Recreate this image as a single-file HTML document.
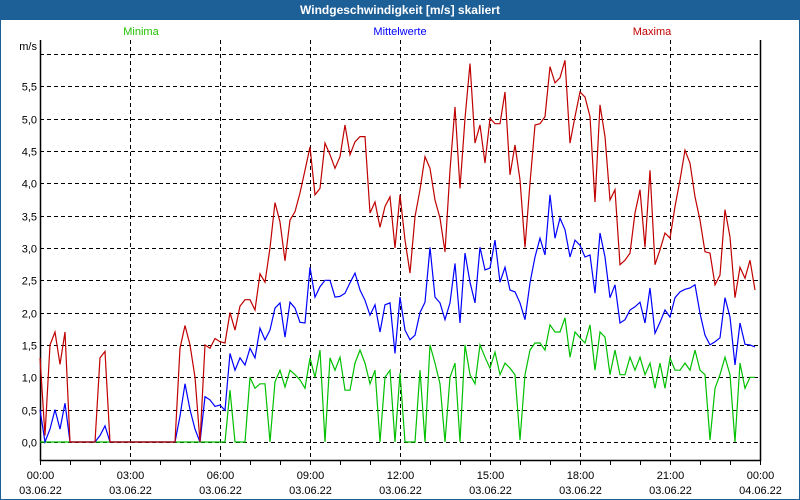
<!DOCTYPE html>
<html><head><meta charset="utf-8"><style>
body{margin:0;background:#fff;}
#wrap{position:relative;width:800px;height:500px;overflow:hidden;background:#fff;font-family:"Liberation Sans",sans-serif;}
#title{position:absolute;left:0;top:0;width:800px;height:20px;background:#1d5f97;color:#fff;font-weight:bold;font-size:12px;line-height:20px;text-align:center;}
</style></head><body>
<div id="wrap">
<div id="title">Windgeschwindigkeit [m/s] skaliert</div>
<svg id="chart" width="800" height="500" style="position:absolute;left:0;top:0"></svg>
</div>
<script>
const xTickLabels=["00:00","03:00","06:00","09:00","12:00","15:00","18:00","21:00","00:00"];
const xDateLabels=["03.06.22","03.06.22","03.06.22","03.06.22","03.06.22","03.06.22","03.06.22","03.06.22","04.06.22"];
const yTicks=[0,0.5,1,1.5,2,2.5,3,3.5,4,4.5,5,5.5,6];
const stepMinutes=10;
const maxima=[1.3,0.1,1.5,1.7,1.2,1.7,0,0,0,0,0,0,1.3,1.4,0,0,0,0,0,0,0,0,0,0,0,0,0,0,1.45,1.8,1.5,1.0,0,1.5,1.45,1.6,1.55,1.53,2.0,1.73,2.1,2.2,2.2,2.04,2.6,2.47,3.0,3.7,3.4,2.8,3.43,3.56,3.85,4.2,4.56,3.82,3.92,4.62,4.44,4.23,4.41,4.9,4.44,4.64,4.72,4.72,3.54,3.71,3.32,3.64,3.79,3.0,3.82,3.12,2.61,3.48,3.9,4.41,4.23,3.74,3.46,2.94,4.2,5.18,3.92,5.0,5.85,4.62,4.9,4.31,5.0,4.92,4.92,5.41,4.13,4.59,4.05,3.01,4.0,4.9,4.92,5.03,5.8,5.55,5.63,5.9,4.62,5.03,5.41,5.33,5.03,3.71,5.21,4.72,3.74,3.9,2.74,2.81,2.92,3.54,3.9,3.01,4.2,2.74,2.97,3.23,3.15,3.64,4.05,4.51,4.31,3.79,3.43,2.94,2.92,2.43,2.58,3.59,3.17,2.23,2.7,2.53,2.81,2.35];
const mittel=[0.5,0.0,0.2,0.5,0.2,0.6,0,0,0,0,0,0,0.1,0.25,0,0,0,0,0,0,0,0,0,0,0,0,0,0,0.4,0.9,0.5,0.2,0,0.7,0.65,0.55,0.57,0.49,1.37,1.11,1.3,1.19,1.45,1.3,1.76,1.58,1.73,2.07,2.15,1.62,2.16,2.07,1.85,1.84,2.7,2.24,2.4,2.5,2.5,2.24,2.25,2.3,2.46,2.61,2.35,2.19,1.96,2.12,1.7,2.12,2.15,1.37,2.24,1.73,1.58,1.65,2.0,2.16,3.01,2.24,2.15,1.89,2.15,2.76,1.84,2.92,2.47,2.15,3.01,2.66,2.69,3.12,2.47,2.7,2.35,2.32,2.15,1.89,2.46,2.86,3.15,2.89,3.82,3.15,3.46,3.28,2.86,3.12,3.04,2.86,2.89,2.3,3.23,2.86,2.23,2.43,1.84,1.89,2.04,2.09,2.16,1.84,2.38,1.68,1.85,2.04,1.93,2.23,2.32,2.36,2.38,2.43,1.99,1.65,1.5,1.55,1.61,2.23,1.93,1.19,1.84,1.51,1.5,1.47];
const minima=[0,0,0,0,0,0,0,0,0,0,0,0,0,0,0,0,0,0,0,0,0,0,0,0,0,0,0,0,0,0,0,0,0,0,0,0,0,0,0.8,0,0,0,1.0,0.83,0.9,0.9,0,0.93,1.11,0.85,1.11,1.04,0.96,0.83,1.3,1.0,1.42,0,1.3,1.11,1.31,0.8,0.8,1.22,1.42,1.22,0.9,1.11,0,1.0,1.11,0,1.07,0,0,0,1.11,0,1.5,1.22,0.9,0,1.0,1.22,0,1.5,1.04,0.9,1.5,1.31,1.14,1.39,1.04,1.22,1.14,1.04,0.03,1.04,1.42,1.53,1.53,1.42,1.81,1.7,1.7,1.92,1.31,1.7,1.61,1.53,1.81,1.11,1.7,1.62,1.04,1.42,1.04,1.04,1.31,1.11,1.31,1.04,1.22,0.83,1.22,0.83,1.3,1.11,1.11,1.22,1.11,1.42,1.11,1.04,0.03,0.83,1.04,1.31,1.04,0,1.22,0.83,1.0,1.0];

const NS="http://www.w3.org/2000/svg";
const svg=document.getElementById('chart');
const L=40,R=760,T=40,B=460;
function xScale(min){return L+(R-L)*min/1440;}
function yScale(v){return 442-v*64.7;}
function mk(tag,attrs,parent){const e=document.createElementNS(NS,tag);for(const k in attrs)e.setAttribute(k,attrs[k]);(parent||svg).appendChild(e);return e;}

// horizontal grid + y labels
yTicks.forEach((v,i)=>{
  const y=Math.round(yScale(v))+0.5;
  const g=mk('line',{x1:L,x2:R,y1:y,y2:y,stroke:'#000','stroke-dasharray':'4,3','stroke-width':1});
  
  
  if(v<6){
    const t=mk('text',{x:37,y:y+4,'text-anchor':'end','font-size':11,fill:'#000','font-family':'Liberation Sans, sans-serif'});
    t.textContent=v.toFixed(1).replace('.',',');
    
    
  }
});
// vertical grid + x labels
xTickLabels.forEach((lab,i)=>{
  const x=Math.round(xScale(i*180))+0.5;
  if(i>0&&i<xTickLabels.length-1){
    const g=mk('line',{x1:x,x2:x,y1:T,y2:B,stroke:'#000','stroke-dasharray':'4,3','stroke-width':1});
    
    
  }
  const t=mk('text',{x:x,y:479,'text-anchor':'middle','font-size':11,fill:'#000','font-family':'Liberation Sans, sans-serif'});
  t.textContent=lab;
  
  
  const d=mk('text',{x:x,y:494,'text-anchor':'middle','font-size':11,fill:'#000','font-family':'Liberation Sans, sans-serif'});
  d.textContent=xDateLabels[i];
  
  
});
// hourly ticks
for(let h=0;h<=24;h++){
  const x=Math.round(xScale(h*60))+0.5;
  const tk=mk('line',{x1:x,x2:x,y1:B,y2:B+5,stroke:'#000'});
  
  
}
// axes
const ax=mk('path',{d:`M${L+0.5},${T} V${B+0.5} H${R+0.5} V${T}`,fill:'none',stroke:'#000','stroke-width':1.5});


const unit=mk('text',{x:37,y:50,'text-anchor':'end','font-size':11,fill:'#000','font-family':'Liberation Sans, sans-serif'});
unit.textContent='m/s';



function series(arr,color,name){
  const pts=arr.map((v,i)=>xScale(i*stepMinutes).toFixed(1)+','+yScale(v).toFixed(1)).join(' ');
  const p=mk('polyline',{points:pts,fill:'none',stroke:color,'stroke-width':1.2,'stroke-linejoin':'miter'});
  
  
}
series(minima,'#00c000','series-minima');
series(mittel,'#0000ff','series-mittelwerte');
series(maxima,'#c00000','series-maxima');

// legend
[['Minima',141,'#22c000','legend-minima'],['Mittelwerte',400,'#0000ff','legend-mittelwerte'],['Maxima',652,'#c00000','legend-maxima']].forEach(l=>{
  const t=mk('text',{x:l[1],y:35,'text-anchor':'middle','font-size':11,fill:l[2],'font-family':'Liberation Sans, sans-serif'});
  t.textContent=l[0];
  
  
});
// window border
const bd=mk('rect',{x:0.5,y:0.5,width:799,height:499,fill:'none',stroke:'#1d5f97','stroke-width':1});


</script>
</body></html>
